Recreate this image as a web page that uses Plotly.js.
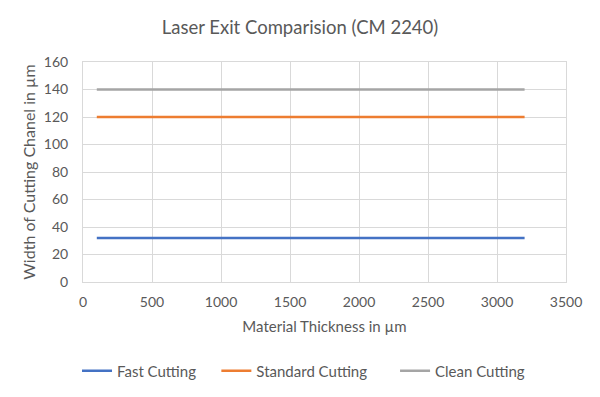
<!DOCTYPE html>
<html>
<head>
<meta charset="utf-8">
<script src="https://cdn.plot.ly/plotly-3.0.1.min.js"></script>
<style>html,body{margin:0;padding:0;background:#fff;}#chart{width:600px;height:397px;}</style>
</head>
<body>
<div id="chart"></div>
<script>
const thickness = [100, 3200];
const fastCutting = [32, 32];
const standardCutting = [120, 120];
const cleanCutting = [140, 140];
const seriesNames = ["Fast Cutting", "Standard Cutting", "Clean Cutting"];
const xTicks = [0, 500, 1000, 1500, 2000, 2500, 3000, 3500];
const yTicks = [0, 20, 40, 60, 80, 100, 120, 140, 160];

const colors = ["#4472C4", "#ED7D31", "#A5A5A5"];
const pads = ["\u00a0\u00a0\u00a0\u00a0", "\u00a0\u00a0\u00a0\u00a0\u00a0\u00a0", ""];
const series = [fastCutting, standardCutting, cleanCutting];
const traces = series.map((s, i) => ({
  x: thickness, y: s, name: seriesNames[i] + pads[i], type: "scatter", mode: "lines",
  line: {color: colors[i], width: 2.5}
}));

const font = "Lato, 'Open Sans', sans-serif";
const layout = {
  width: 600, height: 397,
  margin: {l: 83, r: 34, t: 62, b: 115, autoexpand: false},
  paper_bgcolor: "#fff", plot_bgcolor: "#fff",
  font: {family: font, color: "#595959", size: 14},
  title: {text: "Laser Exit Comparision (CM 2240)", x: 0.5, xanchor: "center", y: 0.93, yanchor: "middle",
          font: {family: font, size: 18.5, color: "#595959"}},
  xaxis: {
    range: [0, 3500], tickvals: xTicks, ticktext: xTicks.map(String), automargin: false,
    showgrid: true, gridcolor: "#d9d9d9", gridwidth: 1,
    showline: true, linecolor: "#d9d9d9", mirror: true, zeroline: false,
    ticks: "", ticklabelstandoff: 7, tickfont: {size: 14, color: "#595959"},
    title: {text: "Material Thickness in µm", font: {size: 15, color: "#595959"}, standoff: 12}
  },
  yaxis: {
    range: [0, 160], tickvals: yTicks, ticktext: yTicks.map(String), automargin: false,
    showgrid: true, gridcolor: "#d9d9d9", gridwidth: 1,
    showline: true, linecolor: "#d9d9d9", mirror: true, zeroline: false,
    ticks: "", ticklabelstandoff: 11, tickfont: {size: 14, color: "#595959"},
    title: {text: "Width of Cutting Chanel in µm", font: {size: 16, color: "#595959"}, standoff: 4}
  },
  legend: {orientation: "h", x: -0.0124, xanchor: "left", y: -0.405, yanchor: "middle",
           font: {size: 15, color: "#595959"}},
  showlegend: true
};
Plotly.newPlot("chart", traces, layout, {displayModeBar: false, staticPlot: true});
</script>
</body>
</html>
